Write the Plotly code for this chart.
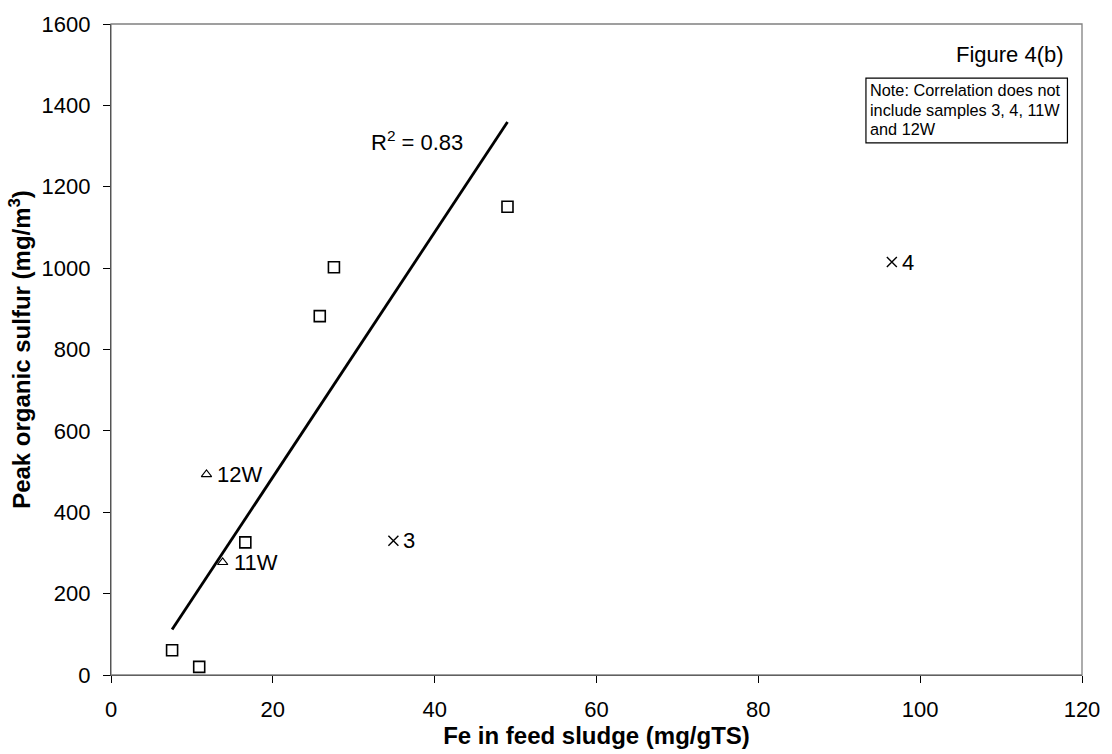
import numpy as np
import plotly.graph_objects as go

# Data
sq_x = [7.55, 10.9, 16.6, 25.8, 27.55, 49.0]
sq_y = [61, 20, 326, 882, 1002, 1151]
tri_x = [11.8, 13.8]
tri_y = [493, 277]
tri_labels = ["12W", "11W"]
x_x = [34.9, 96.5]
x_y = [330, 1015]
x_labels = ["3", "4"]
r2_text = "R<sup>2</sup> = 0.83"
note_lines = ["Note: Correlation does not", "include samples 3, 4, 11W", "and 12W"]

slope, intercept = np.polyfit(sq_x, sq_y, 1)
fit_x = [min(sq_x), max(sq_x)]
fit_y = [slope * v + intercept for v in fit_x]

font = "Liberation Sans, Arial, sans-serif"
lab_font = dict(size=22, color="black", family=font)

fig = go.Figure()
fig.add_trace(go.Scatter(x=fit_x, y=fit_y, mode="lines",
                         line=dict(color="black", width=2.8), showlegend=False))
fig.add_trace(go.Scatter(x=sq_x, y=sq_y, mode="markers",
                         marker=dict(symbol="square-open", size=11, color="black",
                                     line=dict(width=1.6)), showlegend=False))
fig.add_trace(go.Scatter(x=tri_x, y=tri_y, mode="markers",
                         marker=dict(symbol="triangle-up-open", size=9, color="black",
                                     line=dict(width=1.1)), showlegend=False))
fig.add_trace(go.Scatter(x=x_x, y=x_y, mode="markers",
                         marker=dict(symbol="x-thin-open", size=10, color="black",
                                     line=dict(width=1.4)), showlegend=False))

for xs, ys, ls, sh in [(tri_x, tri_y, tri_labels, 9), (x_x, x_y, x_labels, 8)]:
    for xv, yv, lv in zip(xs, ys, ls):
        fig.add_annotation(x=xv, y=yv, text=lv, showarrow=False, xanchor="left",
                           yanchor="middle", xshift=sh, font=lab_font)

fig.add_annotation(x=31.9, y=1312, text=r2_text, showarrow=False,
                   xanchor="left", yanchor="middle", font=lab_font)
fig.add_annotation(x=118.0, y=1524, text="Figure 4(b)",
                   showarrow=False, xanchor="right", yanchor="middle",
                   font=dict(size=22, color="black", family=font))

# note box
fig.add_shape(type="rect", xref="x", yref="y", x0=93.3, x1=118.2, y0=1308, y1=1467,
              line=dict(color="black", width=1.2), fillcolor="white", layer="below")
for i, ln in enumerate(note_lines):
    fig.add_annotation(x=93.6, y=1467, text=ln, showarrow=False, xanchor="left",
                       yanchor="middle", yshift=-12 - 19.5 * i, align="left",
                       font=dict(size=16.3, color="black", family=font))

fig.add_shape(type="rect", xref="paper", yref="paper", x0=0, y0=0, x1=1, y1=1,
              line=dict(color="#808080", width=1.3))

fig.update_layout(
    width=1112, height=754, paper_bgcolor="white", plot_bgcolor="white",
    margin=dict(l=111, r=20, t=20, b=79),
    font=dict(family=font, color="black"),
    xaxis=dict(range=[0, 120], dtick=20, showgrid=False, zeroline=False,
               showline=True, linecolor="black", linewidth=1.3,
               ticks="outside", ticklen=7, tickcolor="black",
               ticklabelstandoff=7,
               tickfont=dict(size=22, family=font),
               title=dict(text="<b>Fe in feed sludge (mg/gTS)</b>", standoff=1,
                          font=dict(size=24, family=font))),
    yaxis=dict(range=[0, 1600], dtick=200, showgrid=False, zeroline=False,
               showline=True, linecolor="black", linewidth=1.3,
               ticks="outside", ticklen=7, tickcolor="black",
               ticklabelstandoff=8,
               tickfont=dict(size=22, family=font),
               title=dict(text="<b>Peak organic sulfur (mg/m<sup>3</sup>)</b>", standoff=4,
                          font=dict(size=24, family=font))),
)
fig.write_html("out.html")
